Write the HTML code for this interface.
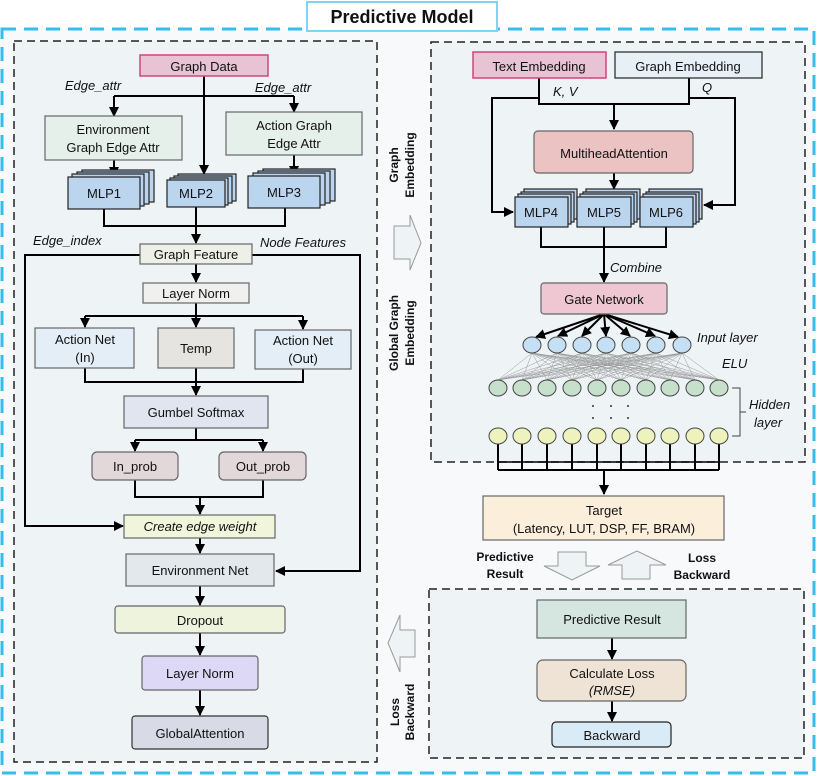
<!DOCTYPE html>
<html><head><meta charset="utf-8"><style>
body{margin:0;background:#fff}
svg{display:block;font-family:"Liberation Sans",sans-serif}
text{font-size:13px;fill:#111}
.i{font-style:italic}
.b{font-weight:bold}
</style></head><body>
<svg width="817" height="776" viewBox="0 0 817 776" xmlns="http://www.w3.org/2000/svg">
<defs>
<marker id="a" viewBox="0 0 10 10" refX="9" refY="5" markerWidth="5" markerHeight="5" orient="auto"><path d="M0,0L10,5L0,10z" fill="#000"/></marker>
</defs>
<rect x="2" y="29" width="812" height="744" fill="#f8f9fa" stroke="#36bdf0" stroke-width="3" stroke-dasharray="14,8"/>
<rect x="307" y="2" width="190" height="29" fill="#fff" stroke="#7fd3f3" stroke-width="2"/>
<text x="402" y="23" text-anchor="middle" class="b" style="font-size:18px">Predictive Model</text>
<rect x="14" y="41" width="363" height="721" fill="#eef3f6" stroke="#222" stroke-width="1.5" stroke-dasharray="8,5"/>
<rect x="431" y="42" width="374" height="420" fill="#eef3f6" stroke="#222" stroke-width="1.5" stroke-dasharray="8,5"/>
<rect x="429" y="589" width="375" height="169" fill="#eef3f6" stroke="#222" stroke-width="1.5" stroke-dasharray="8,5"/>

<g stroke="#000" stroke-width="2" fill="none">
<path d="M204,76V174" marker-end="url(#a)"/>
<path d="M114,96H294"/>
<path d="M114,96V116" marker-end="url(#a)"/>
<path d="M294,96V112" marker-end="url(#a)"/>
<path d="M114,160V176" marker-end="url(#a)"/>
<path d="M294,155V175" marker-end="url(#a)"/>
<path d="M104,209V226H285V208"/>
<path d="M196,207V243" marker-end="url(#a)"/>
<path d="M140,255H25V526H123" marker-end="url(#a)"/>
<path d="M252,255H360V571H276" marker-end="url(#a)"/>
<path d="M196,264V282" marker-end="url(#a)"/>
<path d="M85,316H303"/>
<path d="M196,303V327" marker-end="url(#a)"/>
<path d="M85,316V327" marker-end="url(#a)"/>
<path d="M303,316V329" marker-end="url(#a)"/>
<path d="M85,368V382H303V369"/>
<path d="M196,368V395" marker-end="url(#a)"/>
<path d="M196,428V440"/>
<path d="M135,440H263"/>
<path d="M135,440V451" marker-end="url(#a)"/>
<path d="M263,440V451" marker-end="url(#a)"/>
<path d="M135,480V497H263V480"/>
<path d="M200,497V514" marker-end="url(#a)"/>
<path d="M200,538V553" marker-end="url(#a)"/>
<path d="M200,586V605" marker-end="url(#a)"/>
<path d="M200,633V655" marker-end="url(#a)"/>
<path d="M200,690V715" marker-end="url(#a)"/>
<path d="M539,78V98H492V212H513" marker-end="url(#a)"/>
<path d="M539,98V104H689V78"/>
<path d="M689,98H735V205H704" marker-end="url(#a)"/>
<path d="M614,104V129" marker-end="url(#a)"/>
<path d="M614,173V189" marker-end="url(#a)"/>
<path d="M541,227V247H666V227"/>
<path d="M604,227V282" marker-end="url(#a)"/>
<path d="M604,470V494" marker-end="url(#a)"/>
<path d="M498,470H719"/>
<path d="M498,462H719" stroke-width="1.5"/>
<path d="M612,638V659" marker-end="url(#a)"/>
<path d="M612,701V721" marker-end="url(#a)"/>
</g>
<g stroke="#000" stroke-width="2" marker-end="url(#a)">
<line x1="604" y1="314" x2="536" y2="337"/>
<line x1="604" y1="314" x2="558" y2="336"/>
<line x1="604" y1="314" x2="582" y2="336"/>
<line x1="604" y1="314" x2="606" y2="336"/>
<line x1="604" y1="314" x2="630" y2="336"/>
<line x1="604" y1="314" x2="655" y2="336"/>
<line x1="604" y1="314" x2="678" y2="337"/>
</g>
<g stroke="#999" stroke-width="0.5" id="mesh"></g>
<g id="bl"></g>
<g id="cir"></g>
<g fill="#333"><circle cx="593" cy="406" r="1"/><circle cx="611" cy="406" r="1"/><circle cx="628" cy="406" r="1"/><circle cx="593" cy="418" r="1"/><circle cx="611" cy="418" r="1"/><circle cx="628" cy="418" r="1"/></g>
<path d="M732,388H740V436H732M740,412H746" stroke="#444" fill="none"/>

<g stroke="#666" stroke-width="1.2">
<rect x="140" y="55" width="128" height="21" fill="#e7c3d3" stroke="#d0457e" stroke-width="1.5"/>
<rect x="45" y="116" width="137" height="44" fill="#e6f0ea"/>
<rect x="226" y="112" width="136" height="43" fill="#e6f0ea"/>
<g fill="#bcd5ee" stroke="#222">
<rect x="82" y="170" width="72" height="32"/><rect x="77" y="172" width="72" height="32"/><rect x="72" y="174" width="72" height="32"/><rect x="68" y="177" width="72" height="32"/>
<rect x="178" y="174" width="58" height="27"/><rect x="174" y="176" width="58" height="27"/><rect x="170" y="178" width="58" height="27"/><rect x="167" y="180" width="58" height="27"/>
<rect x="263" y="169" width="72" height="32"/><rect x="258" y="171" width="72" height="32"/><rect x="253" y="173" width="72" height="32"/><rect x="248" y="176" width="72" height="32"/>
</g>
<rect x="140" y="244" width="112" height="20" fill="#eef0e8"/>
<rect x="143" y="283" width="106" height="20" fill="#f0f1ee"/>
<rect x="35" y="328" width="99" height="40" fill="#e3eef6"/>
<rect x="158" y="328" width="76" height="40" fill="#e6e4e0"/>
<rect x="255" y="330" width="96" height="39" fill="#e3eef6"/>
<rect x="124" y="396" width="144" height="32" fill="#e1e5f0"/>
<rect x="92" y="452" width="86" height="28" rx="5" fill="#e2d8da"/>
<rect x="219" y="452" width="87" height="28" rx="5" fill="#e2d8da"/>
<rect x="124" y="515" width="151" height="23" fill="#f0f5dc"/>
<rect x="126" y="554" width="148" height="32" fill="#e3e8ec"/>
<rect x="115" y="606" width="170" height="27" rx="3" fill="#eef3dd"/>
<rect x="142" y="656" width="116" height="34" rx="3" fill="#ddd8f5"/>
<rect x="132" y="716" width="136" height="33" rx="3" fill="#d8dbe6" stroke="#333"/>
<rect x="473" y="52" width="133" height="26" fill="#e7c3d3" stroke="#d0457e" stroke-width="1.5"/>
<rect x="615" y="52" width="147" height="26" fill="#e6f0f6" stroke="#222"/>
<rect x="534" y="131" width="159" height="42" rx="4" fill="#ebc3c3"/>
<g fill="#bcd5ee" stroke="#222">
<rect x="524" y="189" width="53" height="30"/><rect x="521" y="192" width="53" height="30"/><rect x="518" y="194" width="53" height="30"/><rect x="515" y="197" width="53" height="30"/>
<rect x="586" y="189" width="54" height="30"/><rect x="583" y="192" width="54" height="30"/><rect x="580" y="194" width="54" height="30"/><rect x="577" y="197" width="54" height="30"/>
<rect x="649" y="189" width="53" height="30"/><rect x="646" y="192" width="53" height="30"/><rect x="643" y="194" width="53" height="30"/><rect x="640" y="197" width="53" height="30"/>
</g>
<rect x="541" y="283" width="126" height="31" rx="3" fill="#eec7d3"/>
<rect x="483" y="496" width="241" height="44" fill="#fbeedb"/>
<rect x="537" y="600" width="149" height="38" fill="#d5e5e0"/>
<rect x="537" y="660" width="149" height="41" rx="6" fill="#efe3d5"/>
<rect x="552" y="722" width="119" height="25" rx="4" fill="#d9ebf7" stroke="#222"/>
</g>
<g fill="#eef3f6" stroke="#999">
<path d="M394,226H410V215L421,243L410,270V259H394Z"/>
<path d="M415,630H400V615L388,643L400,672V657H415Z"/>
<path d="M558,552H586V566H600L572,580L544,566H558Z"/>
<path d="M622,579H650V565H666L637,551L608,565H622Z"/>
</g>

<g text-anchor="middle">
<text x="204" y="71">Graph Data</text>
<text x="113" y="134">Environment</text><text x="113" y="152">Graph Edge Attr</text>
<text x="294" y="130">Action Graph</text><text x="294" y="148">Edge Attr</text>
<text x="104" y="198">MLP1</text><text x="196" y="198">MLP2</text><text x="284" y="197">MLP3</text>
<text x="196" y="259">Graph Feature</text>
<text x="196" y="298">Layer Norm</text>
<text x="85" y="344">Action Net</text><text x="85" y="362">(In)</text>
<text x="196" y="353">Temp</text>
<text x="303" y="345">Action Net</text><text x="303" y="363">(Out)</text>
<text x="196" y="417">Gumbel Softmax</text>
<text x="135" y="471">In_prob</text><text x="263" y="471">Out_prob</text>
<text x="200" y="531" class="i">Create edge weight</text>
<text x="200" y="575">Environment Net</text>
<text x="200" y="625">Dropout</text>
<text x="200" y="678">Layer Norm</text>
<text x="200" y="738">GlobalAttention</text>
<text x="539" y="71">Text Embedding</text>
<text x="688" y="71">Graph Embedding</text>
<text x="614" y="158">MultiheadAttention</text>
<text x="541" y="217">MLP4</text><text x="604" y="217">MLP5</text><text x="666" y="217">MLP6</text>
<text x="604" y="304">Gate Network</text>
<text x="604" y="515">Target</text>
<text x="604" y="533">(Latency, LUT, DSP, FF, BRAM)</text>
<text x="612" y="624">Predictive Result</text>
<text x="612" y="678">Calculate Loss</text>
<text x="612" y="695" class="i">(RMSE)</text>
<text x="612" y="740">Backward</text>
<text x="505" y="561" class="b" style="font-size:12px">Predictive</text>
<text x="505" y="578" class="b" style="font-size:12px">Result</text>
<text x="702" y="562" class="b" style="font-size:12px">Loss</text>
<text x="702" y="579" class="b" style="font-size:12px">Backward</text>
</g>
<text x="93" y="90" class="i" text-anchor="middle">Edge_attr</text>
<text x="283" y="92" class="i" text-anchor="middle">Edge_attr</text>
<text x="33" y="245" class="i">Edge_index</text>
<text x="260" y="247" class="i">Node Features</text>
<text x="553" y="96" class="i">K, V</text>
<text x="702" y="92" class="i">Q</text>
<text x="610" y="272" class="i">Combine</text>
<text x="697" y="342" class="i">Input layer</text>
<text x="722" y="368" class="i">ELU</text>
<text x="749" y="409" class="i">Hidden</text>
<text x="754" y="427" class="i">layer</text>
<g text-anchor="middle">
<text transform="translate(398,165) rotate(-90)" class="b" style="font-size:12px">Graph</text>
<text transform="translate(414,165) rotate(-90)" class="b" style="font-size:12px">Embedding</text>
<text transform="translate(398,333) rotate(-90)" class="b" style="font-size:12px">Global Graph</text>
<text transform="translate(414,333) rotate(-90)" class="b" style="font-size:12px">Embedding</text>
<text transform="translate(399,712) rotate(-90)" class="b" style="font-size:12px">Loss</text>
<text transform="translate(414,712) rotate(-90)" class="b" style="font-size:12px">Backward</text>
</g>
<script>
(function(){
var ns='http://www.w3.org/2000/svg';
function el(parent,tag,attrs){var e=document.createElementNS(ns,tag);for(var k in attrs)e.setAttribute(k,attrs[k]);parent.appendChild(e);}
var g=document.getElementById('mesh'),bl=document.getElementById('bl'),cir=document.getElementById('cir');
var ix=[532,557,582,606,631,656,682],hx=[498,522,547,572,597,621,646,670,695,719];
ix.forEach(function(a){hx.forEach(function(b){el(g,'line',{x1:a,y1:353,x2:b,y2:380});});});
hx.forEach(function(x){el(bl,'line',{x1:x,y1:444,x2:x,y2:470,stroke:'#000','stroke-width':2});});
ix.forEach(function(x){el(cir,'ellipse',{cx:x,cy:345,rx:9,ry:8,fill:'#c5e0f4',stroke:'#444'});});
hx.forEach(function(x){el(cir,'ellipse',{cx:x,cy:388,rx:9,ry:8,fill:'#c6e0cc',stroke:'#444'});el(cir,'ellipse',{cx:x,cy:436,rx:9,ry:8,fill:'#eef2bd',stroke:'#444'});});
})();
</script>
</svg>
</body></html>
